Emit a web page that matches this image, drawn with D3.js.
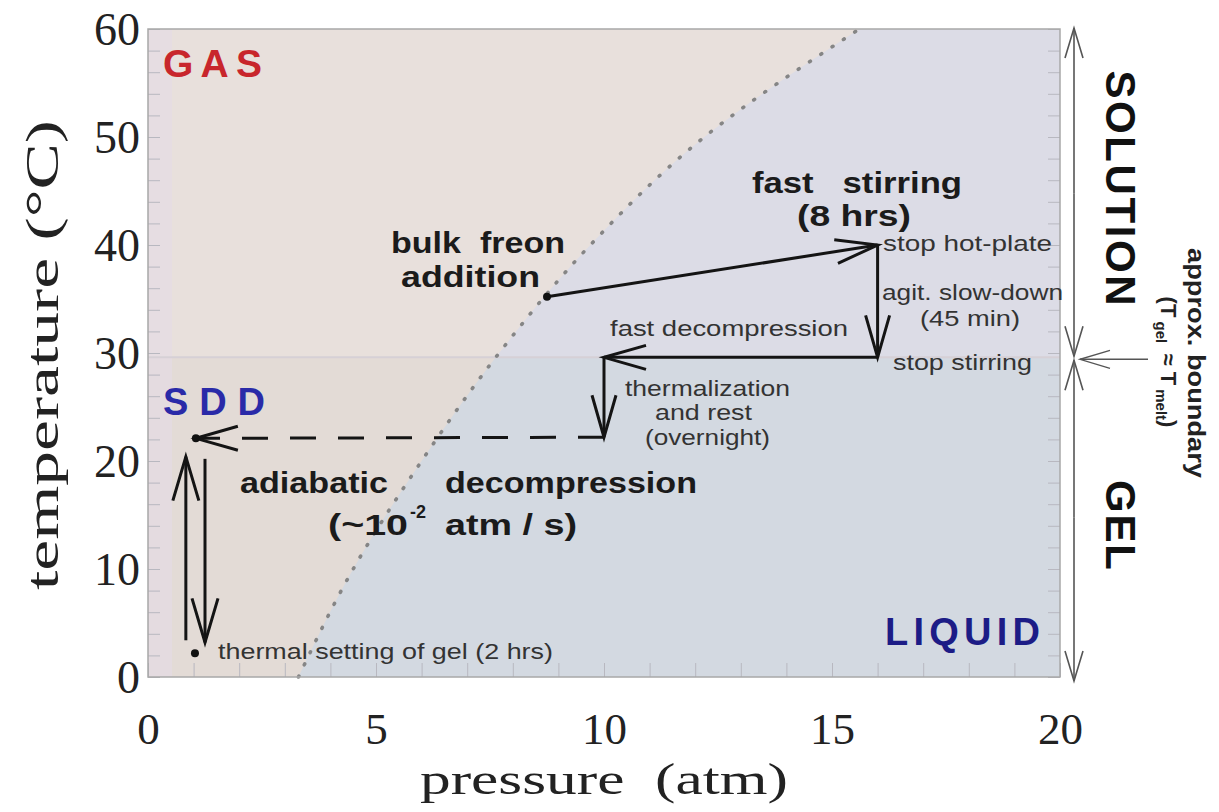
<!DOCTYPE html>
<html>
<head>
<meta charset="utf-8">
<script src="https://cdn.jsdelivr.net/npm/d3@7/dist/d3.min.js"></script>
<style>
  body { margin: 0; background: #fff; }
  svg { display: block; }
  text { white-space: pre; }
  .serif { font-family: 'Liberation Serif', 'DejaVu Serif', serif; fill: #222; }
  .bold { font-family: 'Liberation Sans', Arial, sans-serif; font-weight: bold; fill: #1b1b1b; }
  .note { font-family: 'Liberation Sans', Arial, sans-serif; fill: #333; }
  .minor line { stroke: #b8b8c0; stroke-width: 1; }
  .minor path { display: none; }
  .minor text { display: none; }
</style>
</head>
<body>
<svg id="chart" width="1219" height="812"></svg>
<script>
(function() {

  'use strict';

  var pressureTicks = [0, 5, 10, 15, 20];
  var temperatureTicks = [0, 10, 20, 30, 40, 50, 60];

  // Freon boiling line (dotted).
  var curveTemperature = [0, 10, 20, 30, 40, 50, 60];
  var curvePressure = [3.3, 4.5, 6.0, 7.7, 9.7, 12.2, 15.6];

  // approx. T_gel = T_melt
  var gelBoundary = 29.6;

  // Preparation path, step i goes from point i to point i + 1.
  var stepPressure = [8.75, 16.0, 16.0, 10.0, 10.0, 1.05];
  var stepTemperature = [35.2, 40.0, 29.6, 29.6, 22.2, 22.1];
  var stepDashed = [false, false, false, false, true];

  // Thermal setting of the gel: one arrow up, one arrow down.
  var settingPressure = [0.83, 1.25];
  var settingStart = [3.4, 20.2];
  var settingEnd = [20.4, 3.2];

  var dotPressure = [8.75, 1.05, 1.03];
  var dotTemperature = [35.2, 22.1, 2.2];

  var left = 148, right = 1060, top = 29, bottom = 677;

  var xScale = d3.scaleLinear().domain([0, 20]).range([left, right]);
  var yScale = d3.scaleLinear().domain([0, 60]).range([bottom, top]);

  var svg = d3.select('#chart');

  var defs = svg.append('defs');
  defs.append('clipPath').attr('id', 'clip-top')
    .append('rect')
    .attr('x', left).attr('y', top)
    .attr('width', right - left).attr('height', yScale(gelBoundary) - top);
  defs.append('clipPath').attr('id', 'clip-bottom')
    .append('rect')
    .attr('x', left).attr('y', yScale(gelBoundary))
    .attr('width', right - left).attr('height', bottom - yScale(gelBoundary));

  // Liquid side backgrounds (solution above the boundary, gel below).
  svg.append('rect')
    .attr('x', left).attr('y', top)
    .attr('width', right - left).attr('height', yScale(gelBoundary) - top)
    .attr('fill', '#dcdce6');
  svg.append('rect')
    .attr('x', left).attr('y', yScale(gelBoundary))
    .attr('width', right - left).attr('height', bottom - yScale(gelBoundary))
    .attr('fill', '#d3d9e1');

  var curvePoints = curveTemperature.map(function(t, i) {
    return { t: t, p: curvePressure[i] };
  });

  var gasArea = d3.area()
    .curve(d3.curveMonotoneY)
    .y(function(d) { return yScale(d.t); })
    .x0(xScale(0))
    .x1(function(d) { return xScale(d.p); });

  svg.append('path')
    .datum(curvePoints)
    .attr('clip-path', 'url(#clip-top)')
    .attr('fill', '#e8e0dc')
    .attr('d', gasArea);
  svg.append('path')
    .datum(curvePoints)
    .attr('clip-path', 'url(#clip-bottom)')
    .attr('fill', '#e3dbd6')
    .attr('d', gasArea);

  // Faint tinted strip along the left edge.
  svg.append('rect')
    .attr('x', left).attr('y', top)
    .attr('width', 24).attr('height', bottom - top)
    .attr('fill', '#e4dbe6')
    .attr('opacity', 0.6);

  // Faint band along the boundary.
  svg.append('line')
    .attr('x1', left).attr('x2', right)
    .attr('y1', yScale(gelBoundary)).attr('y2', yScale(gelBoundary))
    .attr('stroke', '#d6d0d6').attr('stroke-width', 2);

  // Dotted boiling line.
  var boilingLine = d3.line()
    .curve(d3.curveMonotoneY)
    .x(function(d) { return xScale(d.p); })
    .y(function(d) { return yScale(d.t); });

  svg.append('path')
    .datum(curvePoints)
    .attr('d', boilingLine)
    .attr('fill', 'none')
    .attr('stroke', '#858585')
    .attr('stroke-width', 3.6)
    .attr('stroke-linecap', 'round')
    .attr('stroke-dasharray', '1 12.5');

  // Minor ticks on the frame.
  svg.append('g').attr('class', 'minor')
    .attr('transform', 'translate(' + left + ',0)')
    .call(d3.axisLeft(yScale).ticks(30).tickSize(-12));
  svg.append('g').attr('class', 'minor')
    .attr('transform', 'translate(' + right + ',0)')
    .call(d3.axisRight(yScale).ticks(30).tickSize(-12));
  svg.append('g').attr('class', 'minor')
    .attr('transform', 'translate(0,' + bottom + ')')
    .call(d3.axisBottom(xScale).ticks(20).tickSize(-14));

  // Frame.
  svg.append('rect')
    .attr('x', left).attr('y', top)
    .attr('width', right - left).attr('height', bottom - top)
    .attr('fill', 'none')
    .attr('stroke', '#a8a8a8')
    .attr('stroke-width', 1.5);

  // Tick labels.
  var xAxis = svg.append('g')
    .attr('transform', 'translate(0,' + bottom + ')')
    .call(d3.axisBottom(xScale).tickValues(pressureTicks).tickSize(0).tickPadding(0));
  xAxis.select('.domain').remove();
  xAxis.selectAll('text')
    .attr('class', 'serif')
    .attr('font-size', 45)
    .attr('dy', null)
    .attr('y', 67)
    .attr('fill', '#222');

  var yAxis = svg.append('g')
    .attr('transform', 'translate(' + left + ',0)')
    .call(d3.axisLeft(yScale).tickValues(temperatureTicks).tickSize(0).tickPadding(8));
  yAxis.select('.domain').remove();
  yAxis.selectAll('text')
    .attr('class', 'serif')
    .attr('font-size', 46)
    .attr('dy', '0.34em')
    .attr('fill', '#222');

  // Axis titles.
  svg.append('text')
    .attr('class', 'serif')
    .attr('font-size', 46)
    .attr('text-anchor', 'middle')
    .attr('textLength', 470)
    .attr('lengthAdjust', 'spacingAndGlyphs')
    .attr('transform', 'translate(58,355) rotate(-90)')
    .text('temperature (°C)');

  svg.append('text')
    .attr('class', 'serif')
    .attr('font-size', 44)
    .attr('text-anchor', 'middle')
    .attr('textLength', 368)
    .attr('lengthAdjust', 'spacingAndGlyphs')
    .attr('x', 604)
    .attr('y', 794)
    .text('pressure  (atm)');

  function arrow(g, x1, y1, x2, y2, opts) {
    var line = g.append('line')
      .attr('x1', x1).attr('y1', y1)
      .attr('x2', x2).attr('y2', y2)
      .attr('stroke', opts.color)
      .attr('stroke-width', opts.width);
    if (opts.dash) {
      line.attr('stroke-dasharray', opts.dash);
    }
    var a = Math.atan2(y2 - y1, x2 - x1);
    var bx = x2 - opts.head * Math.cos(a);
    var by = y2 - opts.head * Math.sin(a);
    var px = -Math.sin(a) * opts.half;
    var py = Math.cos(a) * opts.half;
    g.append('path')
      .attr('d', 'M' + (bx + px) + ',' + (by + py) + 'L' + x2 + ',' + y2 + 'L' + (bx - px) + ',' + (by - py))
      .attr('fill', 'none')
      .attr('stroke', opts.color)
      .attr('stroke-width', opts.width)
      .attr('stroke-linejoin', 'miter');
  }

  var marks = svg.append('g');

  // Preparation path.
  d3.range(stepDashed.length).forEach(function(i) {
    arrow(marks,
      xScale(stepPressure[i]), yScale(stepTemperature[i]),
      xScale(stepPressure[i + 1]), yScale(stepTemperature[i + 1]),
      { color: '#141414', width: 3, head: 42, half: 12, dash: stepDashed[i] ? '26 22' : null });
  });

  settingPressure.forEach(function(p, i) {
    arrow(marks,
      xScale(p), yScale(settingStart[i]),
      xScale(p), yScale(settingEnd[i]),
      { color: '#141414', width: 3, head: 44, half: 13 });
  });

  marks.selectAll('.dot')
    .data(dotPressure)
    .enter().append('circle')
    .attr('class', 'dot')
    .attr('cx', function(d) { return xScale(d); })
    .attr('cy', function(d, i) { return yScale(dotTemperature[i]); })
    .attr('r', 4)
    .attr('fill', '#111');

  // Labels: stretched to the widths they have in the picture.
  function label(cls, x, y, size, width, str, fill, adjust) {
    var t = svg.append('text')
      .attr('class', cls)
      .attr('x', x).attr('y', y)
      .attr('font-size', size)
      .attr('textLength', width)
      .attr('lengthAdjust', adjust || 'spacingAndGlyphs')
      .text(str);
    if (fill) {
      t.style('fill', fill);
    }
    return t;
  }

  label('bold', 163, 77, 39, 99, 'GAS', '#c8262c', 'spacing');
  label('bold', 163, 415, 38, 102, 'SDD', '#2a2aa8', 'spacing');
  label('bold', 885, 645, 38, 155, 'LIQUID', '#1c1c86', 'spacing');

  label('bold', 391, 253, 30, 174, 'bulk  freon');
  label('bold', 401, 287, 30, 139, 'addition');
  label('bold', 752, 193, 30, 210, 'fast   stirring');
  label('bold', 797, 226, 30, 114, '(8 hrs)');
  label('bold', 240, 493, 30, 148, 'adiabatic');
  label('bold', 445, 493, 30, 252, 'decompression');
  label('bold', 328, 535, 30, 80, '(~10');
  label('bold', 410, 518, 19, 16, '-2');
  label('bold', 445, 535, 30, 132, 'atm / s)');

  label('note', 883, 251, 22, 169, 'stop hot-plate');
  label('note', 882, 300, 22, 181, 'agit. slow-down');
  label('note', 920, 326, 22, 100, '(45 min)');
  label('note', 893, 370, 22, 139, 'stop stirring');
  label('note', 610, 336, 22, 238, 'fast decompression');
  label('note', 625, 396, 22, 165, 'thermalization');
  label('note', 655, 420, 22, 97, 'and rest');
  label('note', 645, 445, 22, 125, '(overnight)');
  label('note', 218, 659, 22, 335, 'thermal setting of gel (2 hrs)');

  // Right side: solution / gel brackets.
  var side = svg.append('g');
  var sx = 1074;
  var yb = yScale(gelBoundary);
  var bracket = { color: '#555', width: 1.6, head: 30, half: 9 };
  arrow(side, sx, (top + yb) / 2, sx, top - 1, bracket);
  arrow(side, sx, (top + yb) / 2, sx, yb - 1, bracket);
  arrow(side, sx, (yb + bottom) / 2, sx, yb + 3, bracket);
  arrow(side, sx, (yb + bottom) / 2, sx, bottom + 4, bracket);
  arrow(side, 1148, yb + 2, 1080, yb + 2, { color: '#555', width: 1.4, head: 30, half: 9 });

  svg.append('text')
    .attr('class', 'bold')
    .attr('font-size', 42)
    .attr('text-anchor', 'middle')
    .attr('textLength', 235)
    .attr('transform', 'translate(1106,188) rotate(90)')
    .style('fill', '#111')
    .text('SOLUTION');

  svg.append('text')
    .attr('class', 'bold')
    .attr('font-size', 42)
    .attr('text-anchor', 'middle')
    .attr('textLength', 90)
    .attr('transform', 'translate(1106,525) rotate(90)')
    .style('fill', '#111')
    .text('GEL');

  svg.append('text')
    .attr('class', 'bold')
    .attr('font-size', 24)
    .attr('text-anchor', 'middle')
    .attr('textLength', 230)
    .attr('lengthAdjust', 'spacingAndGlyphs')
    .attr('transform', 'translate(1188,363) rotate(90)')
    .style('fill', '#222')
    .text('approx. boundary');

  var tg = svg.append('text')
    .attr('class', 'bold')
    .attr('font-size', 22)
    .attr('text-anchor', 'middle')
    .attr('transform', 'translate(1161,362) rotate(90)')
    .style('fill', '#222');
  tg.append('tspan').text('(T');
  tg.append('tspan').attr('font-size', 15).attr('dy', 5).text(' gel ');
  tg.append('tspan').attr('dy', -5).text(' \u2248 T');
  tg.append('tspan').attr('font-size', 15).attr('dy', 5).text(' melt');
  tg.append('tspan').attr('dy', -5).text(')');

}());
</script>
</body>
</html>
